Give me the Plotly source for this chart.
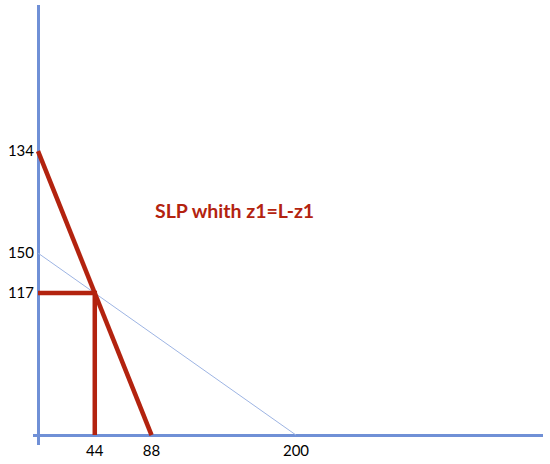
import plotly.graph_objects as go

# values
x_ticks = [44, 88, 200]
y_ticks = [117, 150, 234]
y_tick_text = ["117", "150", "134"]   # top label is printed as 134 in the original

red_line_x = [0, 88]
red_line_y = [234, 0]
step_x = [0, 44, 44]
step_y = [117, 117, 0]
blue_line_x = [0, 200]
blue_line_y = [150, 0]

label = "SLP whith z1=L-z1"

RED = "#b3230f"
BLUE = "#7090d6"

fig = go.Figure()
fig.add_trace(go.Scatter(x=blue_line_x, y=blue_line_y, mode="lines",
                         line=dict(color="#9db4e3", width=1), hoverinfo="skip"))
fig.add_trace(go.Scatter(x=step_x, y=step_y, mode="lines",
                         line=dict(color=RED, width=4.5), hoverinfo="skip"))
fig.add_trace(go.Scatter(x=red_line_x, y=red_line_y, mode="lines",
                         line=dict(color=RED, width=4.5), hoverinfo="skip"))

fig.add_annotation(x=152, y=185, text="<b>" + label + "</b>", showarrow=False,
                   font=dict(family="Lato", size=19.5, color=RED))

fig.update_xaxes(range=[-3.9, 391.5], tickvals=x_ticks, showgrid=False,
                 zeroline=True, zerolinecolor=BLUE, zerolinewidth=3,
                 showline=False, ticks="", fixedrange=True, automargin=False,
                 ticklabelstandoff=-5)
fig.update_yaxes(range=[-8.2, 354.5], tickvals=y_ticks, ticktext=y_tick_text,
                 showgrid=False, zeroline=True, zerolinecolor=BLUE, zerolinewidth=3,
                 showline=False, ticks="", fixedrange=True, automargin=False,
                 ticklabelstandoff=-2)

fig.update_layout(width=550, height=464, showlegend=False,
                  margin=dict(l=33, r=7, t=5, b=19),
                  plot_bgcolor="white", paper_bgcolor="white",
                  font=dict(family="Lato", size=15, color="black"))

fig.write_html("out.html", config={"displayModeBar": False},
               post_script="document.body.style.margin='0';")
